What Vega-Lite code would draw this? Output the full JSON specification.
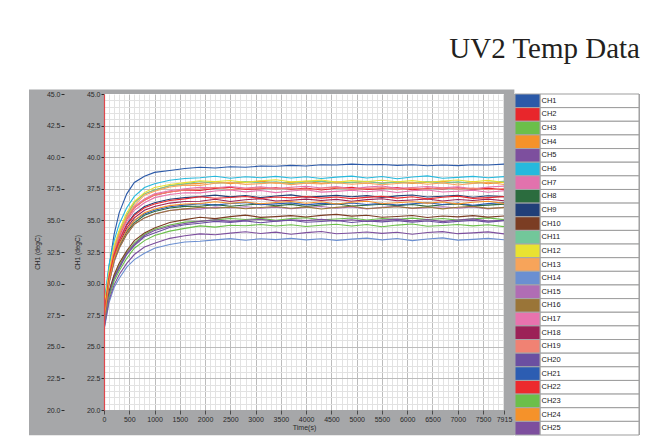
{
"$schema":"https://vega.github.io/schema/vega-lite/v6.json",
"background":"white",
"padding":{"left":29,"top":34,"right":23,"bottom":11},
"bounds":"flush",
"spacing":10,
"title":{"text":"UV2 Temp Data","anchor":"end","font":"Liberation Serif","fontSize":29,"fontWeight":"normal","color":"#231f20","offset":26},
"config":{"view":{"stroke":null},"font":"Liberation Sans","axis":{"labelOverlap":false}},
"resolve":{"scale":{"x":"independent","y":"independent"}},
"datasets":{
"temps":[
{"t":0,"CH1":28.0,"CH2":27.2,"CH3":26.8,"CH4":27.3,"CH5":26.7,"CH6":28.4,"CH7":27.4,"CH8":27.0,"CH9":27.5,"CH10":26.9,"CH11":27.2,"CH12":28.1,"CH13":27.1,"CH14":26.3,"CH15":27.0,"CH16":27.1,"CH17":27.0,"CH18":27.2,"CH19":27.3,"CH20":26.6,"CH21":27.3,"CH22":27.4,"CH23":26.5,"CH24":27.1,"CH25":26.4},
{"t":100,"CH1":31.3,"CH2":30.6,"CH3":29.3,"CH4":30.8,"CH5":29.2,"CH6":31.5,"CH7":30.7,"CH8":30.1,"CH9":30.6,"CH10":29.4,"CH11":30.7,"CH12":31.0,"CH13":30.6,"CH14":28.5,"CH15":30.0,"CH16":30.1,"CH17":30.4,"CH18":30.3,"CH19":30.6,"CH20":29.1,"CH21":30.3,"CH22":30.5,"CH23":28.9,"CH24":30.2,"CH25":28.7},
{"t":200,"CH1":33.9,"CH2":32.5,"CH3":30.6,"CH4":32.8,"CH5":30.5,"CH6":33.4,"CH7":32.6,"CH8":31.8,"CH9":32.4,"CH10":30.7,"CH11":32.7,"CH12":33.0,"CH13":32.6,"CH14":29.7,"CH15":31.7,"CH16":31.8,"CH17":32.3,"CH18":32.1,"CH19":32.5,"CH20":30.4,"CH21":32.0,"CH22":32.3,"CH23":30.2,"CH24":32.0,"CH25":29.9},
{"t":300,"CH1":35.6,"CH2":33.7,"CH3":31.4,"CH4":34.1,"CH5":31.3,"CH6":34.7,"CH7":33.9,"CH8":32.9,"CH9":33.5,"CH10":31.6,"CH11":34.0,"CH12":34.2,"CH13":33.9,"CH14":30.4,"CH15":32.8,"CH16":32.8,"CH17":33.5,"CH18":33.2,"CH19":33.8,"CH20":31.2,"CH21":33.1,"CH22":33.4,"CH23":31.0,"CH24":33.1,"CH25":30.7},
{"t":450,"CH1":37.1,"CH2":35.1,"CH3":32.5,"CH4":35.4,"CH5":32.4,"CH6":36.0,"CH7":35.2,"CH8":34.1,"CH9":34.7,"CH10":32.6,"CH11":35.4,"CH12":35.6,"CH13":35.3,"CH14":31.3,"CH15":33.9,"CH16":33.9,"CH17":34.9,"CH18":34.4,"CH19":35.1,"CH20":32.3,"CH21":34.2,"CH22":34.6,"CH23":32.0,"CH24":34.2,"CH25":31.6},
{"t":600,"CH1":38.0,"CH2":36.0,"CH3":33.2,"CH4":36.4,"CH5":33.1,"CH6":36.9,"CH7":36.1,"CH8":34.8,"CH9":35.5,"CH10":33.4,"CH11":36.4,"CH12":36.5,"CH13":36.2,"CH14":31.9,"CH15":34.7,"CH16":34.7,"CH17":35.8,"CH18":35.2,"CH19":36.0,"CH20":33.0,"CH21":35.0,"CH22":35.4,"CH23":32.8,"CH24":35.0,"CH25":32.3},
{"t":800,"CH1":38.5,"CH2":36.6,"CH3":33.9,"CH4":37.1,"CH5":33.8,"CH6":37.6,"CH7":36.7,"CH8":35.4,"CH9":36.1,"CH10":34.0,"CH11":37.1,"CH12":37.2,"CH13":37.0,"CH14":32.4,"CH15":35.2,"CH16":35.2,"CH17":36.4,"CH18":35.8,"CH19":36.6,"CH20":33.7,"CH21":35.5,"CH22":36.0,"CH23":33.4,"CH24":35.6,"CH25":32.9},
{"t":1000,"CH1":38.8,"CH2":37.0,"CH3":34.3,"CH4":37.4,"CH5":34.2,"CH6":37.9,"CH7":37.1,"CH8":35.7,"CH9":36.4,"CH10":34.4,"CH11":37.4,"CH12":37.6,"CH13":37.3,"CH14":32.8,"CH15":35.5,"CH16":35.5,"CH17":36.8,"CH18":36.1,"CH19":37.0,"CH20":34.0,"CH21":35.8,"CH22":36.3,"CH23":33.8,"CH24":35.9,"CH25":33.2},
{"t":1300,"CH1":38.95,"CH2":37.25,"CH3":34.64,"CH4":37.74,"CH5":34.54,"CH6":38.18,"CH7":37.35,"CH8":35.98,"CH9":36.67,"CH10":34.83,"CH11":37.74,"CH12":37.84,"CH13":37.64,"CH14":33.10,"CH15":35.78,"CH16":35.78,"CH17":37.05,"CH18":36.37,"CH19":37.25,"CH20":34.44,"CH21":36.08,"CH22":36.57,"CH23":34.15,"CH24":36.17,"CH25":33.58},
{"t":1600,"CH1":39.1,"CH2":37.40,"CH3":34.86,"CH4":37.89,"CH5":34.76,"CH6":38.31,"CH7":37.50,"CH8":36.11,"CH9":36.80,"CH10":35.06,"CH11":37.89,"CH12":37.99,"CH13":37.79,"CH14":33.29,"CH15":35.91,"CH16":35.91,"CH17":37.19,"CH18":36.50,"CH19":37.40,"CH20":34.66,"CH21":36.21,"CH22":36.70,"CH23":34.37,"CH24":36.30,"CH25":33.78},
{"t":1900,"CH1":39.2,"CH2":37.36,"CH3":34.92,"CH4":37.93,"CH5":34.92,"CH6":38.37,"CH7":37.61,"CH8":36.12,"CH9":36.88,"CH10":35.25,"CH11":38.08,"CH12":38.14,"CH13":37.77,"CH14":33.35,"CH15":35.89,"CH16":36.04,"CH17":37.18,"CH18":36.52,"CH19":37.49,"CH20":34.78,"CH21":36.32,"CH22":36.87,"CH23":34.57,"CH24":36.34,"CH25":33.93},
{"t":2200,"CH1":39.15,"CH2":37.53,"CH3":35.04,"CH4":38.06,"CH5":35.05,"CH6":38.49,"CH7":37.58,"CH8":36.25,"CH9":37.00,"CH10":35.14,"CH11":37.94,"CH12":38.07,"CH13":37.94,"CH14":33.46,"CH15":36.05,"CH16":35.96,"CH17":37.32,"CH18":36.67,"CH19":37.62,"CH20":34.92,"CH21":36.21,"CH22":36.75,"CH23":34.47,"CH24":36.48,"CH25":33.86},
{"t":2500,"CH1":39.25,"CH2":37.62,"CH3":35.15,"CH4":37.91,"CH5":34.92,"CH6":38.33,"CH7":37.68,"CH8":36.12,"CH9":36.86,"CH10":35.30,"CH11":38.00,"CH12":38.16,"CH13":38.01,"CH14":33.56,"CH15":35.98,"CH16":36.05,"CH17":37.40,"CH18":36.50,"CH19":37.44,"CH20":34.84,"CH21":36.34,"CH22":36.81,"CH23":34.62,"CH24":36.36,"CH25":33.99},
{"t":2800,"CH1":39.2,"CH2":37.44,"CH3":35.07,"CH4":38.04,"CH5":35.01,"CH6":38.45,"CH7":37.56,"CH8":36.22,"CH9":36.97,"CH10":35.42,"CH11":38.08,"CH12":38.01,"CH13":37.85,"CH14":33.43,"CH15":36.08,"CH16":35.92,"CH17":37.26,"CH18":36.63,"CH19":37.50,"CH20":34.96,"CH21":36.41,"CH22":36.89,"CH23":34.58,"CH24":36.45,"CH25":34.10},
{"t":3100,"CH1":39.3,"CH2":37.50,"CH3":35.16,"CH4":38.11,"CH5":35.09,"CH6":38.38,"CH7":37.65,"CH8":36.30,"CH9":36.80,"CH10":35.24,"CH11":37.97,"CH12":38.14,"CH13":37.91,"CH14":33.55,"CH15":35.96,"CH16":36.02,"CH17":37.37,"CH18":36.72,"CH19":37.58,"CH20":34.81,"CH21":36.25,"CH22":36.73,"CH23":34.68,"CH24":36.32,"CH25":33.96},
{"t":3400,"CH1":39.28,"CH2":37.58,"CH3":35.01,"CH4":37.95,"CH5":34.93,"CH6":38.48,"CH7":37.52,"CH8":36.16,"CH9":36.93,"CH10":35.30,"CH11":38.06,"CH12":38.21,"CH13":37.99,"CH14":33.48,"CH15":36.05,"CH16":36.10,"CH17":37.20,"CH18":36.54,"CH19":37.47,"CH20":34.94,"CH21":36.31,"CH22":36.85,"CH23":34.56,"CH24":36.42,"CH25":34.07},
{"t":3700,"CH1":39.35,"CH2":37.47,"CH3":35.14,"CH4":38.01,"CH5":35.05,"CH6":38.36,"CH7":37.62,"CH8":36.27,"CH9":37.02,"CH10":35.38,"CH11":37.91,"CH12":38.05,"CH13":37.83,"CH14":33.58,"CH15":35.92,"CH16":35.96,"CH17":37.33,"CH18":36.60,"CH19":37.56,"CH20":35.01,"CH21":36.39,"CH22":36.78,"CH23":34.65,"CH24":36.50,"CH25":33.90},
{"t":4000,"CH1":39.3,"CH2":37.56,"CH3":35.21,"CH4":38.09,"CH5":34.98,"CH6":38.45,"CH7":37.70,"CH8":36.10,"CH9":36.84,"CH10":35.27,"CH11":38.04,"CH12":38.11,"CH13":37.95,"CH14":33.46,"CH15":36.02,"CH16":36.07,"CH17":37.42,"CH18":36.68,"CH19":37.41,"CH20":34.85,"CH21":36.23,"CH22":36.88,"CH23":34.52,"CH24":36.36,"CH25":34.03},
{"t":4300,"CH1":39.4,"CH2":37.41,"CH3":35.05,"CH4":37.93,"CH5":35.08,"CH6":38.32,"CH7":37.56,"CH8":36.23,"CH9":36.90,"CH10":35.40,"CH11":38.11,"CH12":38.19,"CH13":37.88,"CH14":33.55,"CH15":36.10,"CH16":35.90,"CH17":37.24,"CH18":36.57,"CH19":37.54,"CH20":34.91,"CH21":36.35,"CH22":36.76,"CH23":34.62,"CH24":36.47,"CH25":34.12},
{"t":4600,"CH1":39.38,"CH2":37.54,"CH3":35.11,"CH4":38.05,"CH5":34.96,"CH6":38.42,"CH7":37.67,"CH8":36.32,"CH9":36.98,"CH10":35.48,"CH11":37.95,"CH12":38.03,"CH13":37.98,"CH14":33.42,"CH15":35.96,"CH16":36.03,"CH17":37.30,"CH18":36.66,"CH19":37.61,"CH20":34.99,"CH21":36.28,"CH22":36.85,"CH23":34.70,"CH24":36.30,"CH25":33.94},
{"t":4900,"CH1":39.45,"CH2":37.61,"CH3":35.19,"CH4":37.98,"CH5":35.05,"CH6":38.50,"CH7":37.50,"CH8":36.14,"CH9":36.87,"CH10":35.34,"CH11":38.01,"CH12":38.15,"CH13":37.86,"CH14":33.52,"CH15":36.07,"CH16":36.12,"CH17":37.38,"CH18":36.51,"CH19":37.45,"CH20":34.83,"CH21":36.38,"CH22":36.72,"CH23":34.56,"CH24":36.43,"CH25":34.00},
{"t":5200,"CH1":39.4,"CH2":37.45,"CH3":35.03,"CH4":38.08,"CH5":34.92,"CH6":38.36,"CH7":37.63,"CH8":36.20,"CH9":36.96,"CH10":35.41,"CH11":38.09,"CH12":38.08,"CH13":37.95,"CH14":33.60,"CH15":35.90,"CH16":35.94,"CH17":37.27,"CH18":36.64,"CH19":37.51,"CH20":34.95,"CH21":36.26,"CH22":36.82,"CH23":34.67,"CH24":36.52,"CH25":34.08},
{"t":5500,"CH1":39.42,"CH2":37.51,"CH3":35.15,"CH4":37.96,"CH5":35.02,"CH6":38.47,"CH7":37.72,"CH8":36.28,"CH9":36.81,"CH10":35.25,"CH11":37.93,"CH12":38.18,"CH13":37.82,"CH14":33.46,"CH15":36.03,"CH16":36.00,"CH17":37.36,"CH18":36.71,"CH19":37.59,"CH20":34.88,"CH21":36.35,"CH22":36.90,"CH23":34.50,"CH24":36.34,"CH25":33.97},
{"t":5800,"CH1":39.35,"CH2":37.59,"CH3":35.08,"CH4":38.05,"CH5":35.10,"CH6":38.30,"CH7":37.54,"CH8":36.17,"CH9":36.94,"CH10":35.31,"CH11":38.05,"CH12":38.06,"CH13":37.92,"CH14":33.57,"CH15":36.12,"CH16":36.08,"CH17":37.21,"CH18":36.55,"CH19":37.43,"CH20":34.98,"CH21":36.22,"CH22":36.76,"CH23":34.63,"CH24":36.40,"CH25":34.06},
{"t":6100,"CH1":39.4,"CH2":37.43,"CH3":35.18,"CH4":37.92,"CH5":34.96,"CH6":38.43,"CH7":37.60,"CH8":36.26,"CH9":37.01,"CH10":35.39,"CH11":37.98,"CH12":38.15,"CH13":38.00,"CH14":33.40,"CH15":35.94,"CH16":35.97,"CH17":37.34,"CH18":36.61,"CH19":37.55,"CH20":34.86,"CH21":36.32,"CH22":36.87,"CH23":34.72,"CH24":36.48,"CH25":33.91},
{"t":6400,"CH1":39.32,"CH2":37.55,"CH3":35.06,"CH4":38.02,"CH5":35.07,"CH6":38.52,"CH7":37.68,"CH8":36.11,"CH9":36.85,"CH10":35.23,"CH11":38.08,"CH12":38.02,"CH13":37.86,"CH14":33.53,"CH15":36.00,"CH16":36.06,"CH17":37.41,"CH18":36.69,"CH19":37.48,"CH20":34.95,"CH21":36.40,"CH22":36.70,"CH23":34.54,"CH24":36.37,"CH25":34.04},
{"t":6700,"CH1":39.38,"CH2":37.48,"CH3":35.15,"CH4":38.10,"CH5":34.90,"CH6":38.34,"CH7":37.57,"CH8":36.24,"CH9":36.91,"CH10":35.35,"CH11":37.96,"CH12":38.12,"CH13":37.97,"CH14":33.62,"CH15":36.08,"CH16":35.91,"CH17":37.25,"CH18":36.53,"CH19":37.58,"CH20":34.82,"CH21":36.26,"CH22":36.83,"CH23":34.60,"CH24":36.46,"CH25":34.11},
{"t":7000,"CH1":39.33,"CH2":37.58,"CH3":35.02,"CH4":37.96,"CH5":35.03,"CH6":38.40,"CH7":37.66,"CH8":36.31,"CH9":36.99,"CH10":35.28,"CH11":38.05,"CH12":38.20,"CH13":37.80,"CH14":33.44,"CH15":35.97,"CH16":36.04,"CH17":37.31,"CH18":36.65,"CH19":37.46,"CH20":34.92,"CH21":36.37,"CH22":36.92,"CH23":34.68,"CH24":36.31,"CH25":33.95},
{"t":7300,"CH1":39.4,"CH2":37.46,"CH3":35.12,"CH4":38.07,"CH5":35.12,"CH6":38.48,"CH7":37.51,"CH8":36.15,"CH9":36.83,"CH10":35.38,"CH11":37.92,"CH12":38.06,"CH13":37.93,"CH14":33.50,"CH15":36.06,"CH16":36.11,"CH17":37.39,"CH18":36.58,"CH19":37.55,"CH20":35.00,"CH21":36.20,"CH22":36.74,"CH23":34.57,"CH24":36.44,"CH25":34.01},
{"t":7600,"CH1":39.38,"CH2":37.55,"CH3":35.20,"CH4":37.90,"CH5":34.94,"CH6":38.37,"CH7":37.64,"CH8":36.21,"CH9":36.95,"CH10":35.26,"CH11":38.02,"CH12":38.17,"CH13":38.02,"CH14":33.58,"CH15":35.91,"CH16":35.95,"CH17":37.23,"CH18":36.68,"CH19":37.42,"CH20":34.86,"CH21":36.33,"CH22":36.80,"CH23":34.66,"CH24":36.51,"CH25":34.09},
{"t":7915,"CH1":39.45,"CH2":37.42,"CH3":35.06,"CH4":38.03,"CH5":35.00,"CH6":38.46,"CH7":37.71,"CH8":36.29,"CH9":36.88,"CH10":35.35,"CH11":38.10,"CH12":38.00,"CH13":37.84,"CH14":33.47,"CH15":36.04,"CH16":36.01,"CH17":37.35,"CH18":36.56,"CH19":37.52,"CH20":34.97,"CH21":36.42,"CH22":36.88,"CH23":34.51,"CH24":36.35,"CH25":33.93}
],
"legend":[{"ch":"CH1"},{"ch":"CH2"},{"ch":"CH3"},{"ch":"CH4"},{"ch":"CH5"},{"ch":"CH6"},{"ch":"CH7"},{"ch":"CH8"},{"ch":"CH9"},{"ch":"CH10"},{"ch":"CH11"},{"ch":"CH12"},{"ch":"CH13"},{"ch":"CH14"},{"ch":"CH15"},{"ch":"CH16"},{"ch":"CH17"},{"ch":"CH18"},{"ch":"CH19"},{"ch":"CH20"},{"ch":"CH21"},{"ch":"CH22"},{"ch":"CH23"},{"ch":"CH24"},{"ch":"CH25"}]
},
"hconcat":[
{
"width":400,"height":316,
"resolve":{"scale":{"x":"independent","y":"independent"},"axis":{"x":"independent","y":"independent"}},
"layer":[
{
"data":{"values":[{}]},
"mark":{"type":"point","opacity":0},
"encoding":{
"x":{"datum":0,"type":"quantitative","scale":{"domain":[0,7915],"nice":false,"zero":false},"axis":{"orient":"bottom","grid":true,"gridColor":"#e2e2e2","gridWidth":1,"labels":false,"ticks":false,"domain":false,"title":null,"values":[100,200,300,400,600,700,800,900,1100,1200,1300,1400,1600,1700,1800,1900,2100,2200,2300,2400,2600,2700,2800,2900,3100,3200,3300,3400,3600,3700,3800,3900,4100,4200,4300,4400,4600,4700,4800,4900,5100,5200,5300,5400,5600,5700,5800,5900,6100,6200,6300,6400,6600,6700,6800,6900,7100,7200,7300,7400,7600,7700,7800,7900]}},
"y":{"datum":20,"type":"quantitative","scale":{"domain":[20,45],"nice":false,"zero":false},"axis":{"orient":"left","grid":true,"gridColor":"#e2e2e2","gridWidth":1,"labels":false,"ticks":false,"domain":false,"title":null,"values":[20.5,21,21.5,22,23,23.5,24,24.5,25.5,26,26.5,27,28,28.5,29,29.5,30.5,31,31.5,32,33,33.5,34,34.5,35.5,36,36.5,37,38,38.5,39,39.5,40.5,41,41.5,42,43,43.5,44,44.5]}}
}
},
{
"data":{"values":[{}]},
"mark":{"type":"point","opacity":0},
"encoding":{
"x":{"datum":0,"type":"quantitative","scale":{"domain":[0,7915],"nice":false,"zero":false},"axis":{"orient":"bottom","grid":true,"gridColor":"#bcbcbc","gridWidth":1,"labels":false,"ticks":false,"domain":false,"title":null,"values":[500,1000,1500,2000,2500,3000,3500,4000,4500,5000,5500,6000,6500,7000,7500]}},
"y":{"datum":20,"type":"quantitative","scale":{"domain":[20,45],"nice":false,"zero":false},"axis":{"orient":"left","grid":true,"gridColor":"#bcbcbc","gridWidth":1,"labels":false,"ticks":false,"domain":false,"title":null,"values":[22.5,25,27.5,30,32.5,35,37.5,40,42.5]}}
}
},
{"data":{"values":[{}]},"mark":{"type":"rect","color":"#a6a7a9"},"encoding":{"x":{"datum":-1484,"type":"quantitative","scale":{"domain":[0,7915],"nice":false,"zero":false},"axis":null},"x2":{"datum":0},"y":{"datum":18.0,"type":"quantitative","scale":{"domain":[20,45],"nice":false,"zero":false},"axis":null},"y2":{"datum":45.35}}},
{"data":{"values":[{}]},"mark":{"type":"rect","color":"#a6a7a9"},"encoding":{"x":{"datum":7915,"type":"quantitative","scale":{"domain":[0,7915],"nice":false,"zero":false},"axis":null},"x2":{"datum":8120},"y":{"datum":18.0,"type":"quantitative","scale":{"domain":[20,45],"nice":false,"zero":false},"axis":null},"y2":{"datum":45.35}}},
{"data":{"values":[{}]},"mark":{"type":"rect","color":"#a6a7a9"},"encoding":{"x":{"datum":0,"type":"quantitative","scale":{"domain":[0,7915],"nice":false,"zero":false},"axis":null},"x2":{"datum":7915},"y":{"datum":45,"type":"quantitative","scale":{"domain":[20,45],"nice":false,"zero":false},"axis":null},"y2":{"datum":45.35}}},
{"data":{"values":[{}]},"mark":{"type":"rect","color":"#a6a7a9"},"encoding":{"x":{"datum":0,"type":"quantitative","scale":{"domain":[0,7915],"nice":false,"zero":false},"axis":null},"x2":{"datum":7915},"y":{"datum":18.0,"type":"quantitative","scale":{"domain":[20,45],"nice":false,"zero":false},"axis":null},"y2":{"datum":20}}},
{
"data":{"name":"temps"},
"transform":[{"fold":["CH1","CH2","CH3","CH4","CH5","CH6","CH7","CH8","CH9","CH10","CH11","CH12","CH13","CH14","CH15","CH16","CH17","CH18","CH19","CH20","CH21","CH22","CH23","CH24","CH25"],"as":["ch","temp"]}],
"mark":{"type":"line","strokeWidth":1.1,"clip":true},
"encoding":{
"x":{"field":"t","type":"quantitative","scale":{"domain":[0,7915],"nice":false,"zero":false},"axis":{"orient":"bottom","grid":false,"zindex":1,"domain":false,"values":[0,500,1000,1500,2000,2500,3000,3500,4000,4500,5000,5500,6000,6500,7000,7500,7915],"format":"d","labelOverlap":false,"labelFontSize":7,"labelColor":"#2a2a2a","labelPadding":1,"tickSize":4,"tickColor":"#4a4a4a","labelFlush":false,"title":"Time(s)","titleFontSize":7,"titleFontWeight":"normal","titleColor":"#2a2a2a","titlePadding":1}},
"y":{"field":"temp","type":"quantitative","scale":{"domain":[20,45],"nice":false,"zero":false},"axis":{"orient":"left","grid":false,"zindex":1,"domain":true,"domainColor":"#e0474c","domainWidth":1.2,"values":[20,22.5,25,27.5,30,32.5,35,37.5,40,42.5,45],"format":".1f","labelOverlap":false,"labelFontSize":7,"labelColor":"#2a2a2a","labelPadding":1,"tickSize":3,"tickColor":"#2a2a2a","title":"CH1 (degC)","titleFontSize":6.5,"titleFontWeight":"normal","titleColor":"#2a2a2a","titlePadding":6}},
"color":{"field":"ch","type":"nominal","legend":null,"scale":{"domain":["CH1","CH2","CH3","CH4","CH5","CH6","CH7","CH8","CH9","CH10","CH11","CH12","CH13","CH14","CH15","CH16","CH17","CH18","CH19","CH20","CH21","CH22","CH23","CH24","CH25"],"range":["#2b59a8","#e8262b","#6bbf4a","#f5922a","#7d4f9e","#26b9dd","#e272ad","#2b6c3e","#213f78","#7b3d23","#72c79a","#e9e231","#f7a45a","#6b8fd1","#b06db4","#9a7538","#e873ae","#9c2157","#f08273","#6b4fa1","#2c5db2","#ec2a2e","#6bbf4a","#f5922a","#7d4f9e"]}}
}
},
{
"data":{"values":[{}]},
"mark":{"type":"point","opacity":0},
"encoding":{
"y":{"datum":20,"type":"quantitative","scale":{"domain":[20,45],"nice":false,"zero":false},"axis":{"orient":"left","offset":40,"grid":false,"zindex":1,"domain":false,"values":[20,22.5,25,27.5,30,32.5,35,37.5,40,42.5,45],"format":".1f","labelOverlap":false,"labelFontSize":7,"labelColor":"#2a2a2a","labelPadding":1,"tickSize":3,"tickColor":"#2a2a2a","title":"CH1 (degC)","titleFontSize":6.5,"titleFontWeight":"normal","titleColor":"#2a2a2a","titlePadding":6}}
}
}
]
},
{
"width":126,"height":341,
"view":{"fill":"#a6a7a9","stroke":null},
"data":{"name":"legend"},
"layer":[
{"mark":{"type":"rect","fill":"white","stroke":"#9d9d9d","strokeWidth":1},
"encoding":{
"x":{"datum":26,"type":"quantitative","scale":{"domain":[0,126],"nice":false,"zero":false},"axis":null},
"x2":{"datum":125},
"y":{"field":"ch","type":"nominal","sort":null,"scale":{"domain":["CH1","CH2","CH3","CH4","CH5","CH6","CH7","CH8","CH9","CH10","CH11","CH12","CH13","CH14","CH15","CH16","CH17","CH18","CH19","CH20","CH21","CH22","CH23","CH24","CH25"],"paddingInner":0,"paddingOuter":0},"axis":null}}},
{"mark":{"type":"rect","stroke":"#a6a7a9","strokeWidth":1},
"encoding":{
"x":{"datum":1,"type":"quantitative"},
"x2":{"datum":26},
"y":{"field":"ch","type":"nominal","sort":null},
"color":{"field":"ch","type":"nominal","legend":null,"scale":{"domain":["CH1","CH2","CH3","CH4","CH5","CH6","CH7","CH8","CH9","CH10","CH11","CH12","CH13","CH14","CH15","CH16","CH17","CH18","CH19","CH20","CH21","CH22","CH23","CH24","CH25"],"range":["#2b59a8","#e8262b","#6bbf4a","#f5922a","#7d4f9e","#26b9dd","#e272ad","#2b6c3e","#213f78","#7b3d23","#72c79a","#e9e231","#f7a45a","#6b8fd1","#b06db4","#9a7538","#e873ae","#9c2157","#f08273","#6b4fa1","#2c5db2","#ec2a2e","#6bbf4a","#f5922a","#7d4f9e"]}}}},
{"mark":{"type":"text","align":"left","baseline":"middle","fontSize":7.5,"color":"#1a1a1a","font":"Liberation Sans"},
"encoding":{
"x":{"datum":27.5,"type":"quantitative"},
"y":{"field":"ch","type":"nominal","sort":null},
"text":{"field":"ch"}}}
]
}
]
}
